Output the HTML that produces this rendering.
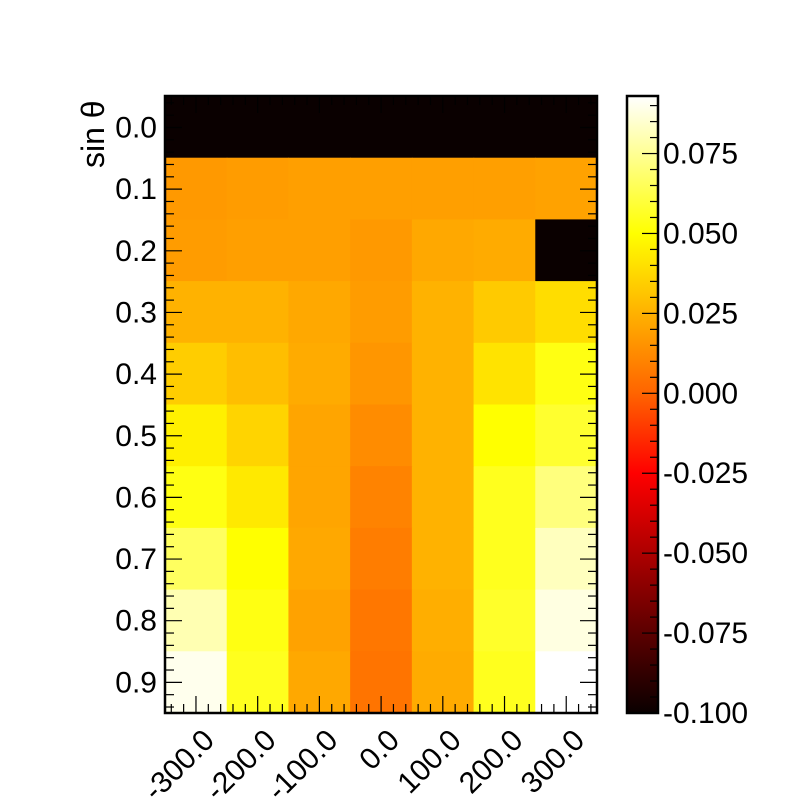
<!DOCTYPE html>
<html><head><meta charset="utf-8"><style>
html,body{margin:0;padding:0;background:#fff;}
</style></head><body>
<svg id="chart" width="800" height="800" viewBox="0 0 800 800" xmlns="http://www.w3.org/2000/svg" font-family="Liberation Sans, sans-serif">
<g id="cells"></g>
<g id="cbar"></g>
<g id="axes"></g>
<text transform="translate(104,168) rotate(-90)" font-size="32" style="font-size:32px">sin θ</text>
</svg>
<script>
const xBins = [-300, -200, -100, 0, 100, 200, 300];
const yBins = [0.0, 0.1, 0.2, 0.3, 0.4, 0.5, 0.6, 0.7, 0.8, 0.9];
const values = [
 [-0.1,-0.1,-0.1,-0.1,-0.1,-0.1,-0.1],
 [0.017,0.018,0.019,0.019,0.019,0.019,0.020],
 [0.018,0.019,0.019,0.017,0.022,0.023,-0.1],
 [0.025,0.025,0.022,0.018,0.025,0.033,0.039],
 [0.034,0.029,0.023,0.016,0.025,0.041,0.053],
 [0.045,0.036,0.021,0.013,0.025,0.050,0.058],
 [0.053,0.043,0.021,0.010,0.025,0.055,0.071],
 [0.066,0.050,0.022,0.008,0.025,0.055,0.082],
 [0.080,0.053,0.020,0.006,0.024,0.057,0.088],
 [0.090,0.055,0.022,0.005,0.023,0.055,0.093]
];
const xTickLabels = ["-300.0","-200.0","-100.0","0.0","100.0","200.0","300.0"];
const yTickLabels = ["0.0","0.1","0.2","0.3","0.4","0.5","0.6","0.7","0.8","0.9"];
const zTickValues = [-0.1,-0.075,-0.05,-0.025,0,0.025,0.05,0.075];
const zTickLabels = ["-0.100","-0.075","-0.050","-0.025","0.000","0.025","0.050","0.075"];

const NS="http://www.w3.org/2000/svg";
const L=165,R=597,T=96,B=713;
const zMin=-0.1,zMax=0.093;
const cw=(R-L)/xBins.length, ch=(B-T)/yBins.length;
function colX(i){return L+i*cw;}
function rowY(j){return T+j*ch;}
function tickX(v){return 381.1+v*0.6171;}
function tickY(v){return 127.5+v*616.5;}
function zY(v){return B-(v-zMin)/(zMax-zMin)*(B-T);}
const stops=[[-0.1,[10,0,0]],[-0.025,[255,0,0]],[0,[255,100,0]],[0.05,[255,255,0]],[0.093,[255,255,255]]];
function color(v){
  v=Math.max(zMin,Math.min(zMax,v));
  for(let k=0;k<stops.length-1;k++){
    const a=stops[k],b=stops[k+1];
    if(v<=b[0]){const t=(v-a[0])/(b[0]-a[0]);
      const c=a[1].map((x,i)=>Math.round(x+(b[1][i]-x)*t));
      return `rgb(${c[0]},${c[1]},${c[2]})`;}
  }
  return "#fff";
}
function el(tag,attrs,parent){const e=document.createElementNS(NS,tag);for(const k in attrs)e.setAttribute(k,attrs[k]);parent.appendChild(e);return e;}
const FS='font-size:30px;font-family:"Liberation Sans",sans-serif';
const cells=document.getElementById('cells');
values.forEach((row,j)=>row.forEach((v,i)=>{
  const r=el('rect',{x:colX(i),y:rowY(j),width:cw+0.6,height:ch+0.6,fill:color(v)},cells);
  
  
}));
const cb=document.getElementById('cbar');
const defs=el('defs',{},cb);
const g=el('linearGradient',{id:'grad',x1:0,y1:1,x2:0,y2:0},defs);
stops.forEach(s=>el('stop',{offset:(s[0]-zMin)/(zMax-zMin),'stop-color':color(s[0])},g));
const cbr=el('rect',{x:627,y:T,width:31,height:B-T,fill:'url(#grad)',stroke:'#000','stroke-width':2.5},cb);


for(let k=-20;k*0.005<=zMax+1e-9;k++){
  const v=k*0.005;const y=zY(v);const major=(k%5)===0;
  el('line',{x1:658-(major?16:8),x2:658,y1:y,y2:y,stroke:'#000','stroke-width':1.2},cb);
}
zTickValues.forEach((v,i)=>{
  const t=el('text',{x:663,y:zY(v)+10,'font-size':30,style:FS},cb);t.textContent=zTickLabels[i];
  
  
});
const ax=document.getElementById('axes');
const fr=el('rect',{x:L,y:T,width:R-L,height:B-T,fill:'none',stroke:'#000','stroke-width':2.5},ax);


for(let k=-20;k<=20;k++){
  const v=k*20;const x=tickX(v);if(x<L+1||x>R-1)continue;const major=(k%5)===0;
  el('line',{x1:x,x2:x,y1:B,y2:B-(major?17:9),stroke:'#000','stroke-width':1.2},ax);
  el('line',{x1:x,x2:x,y1:T,y2:T+(major?17:9),stroke:'#000','stroke-width':1.2},ax);
}
xTickLabels.forEach((s,i)=>{
  const x=tickX(xBins[i]);
  const t=el('text',{'text-anchor':'end',transform:`translate(${x+20},${B+29}) rotate(-45)`,'font-size':30,style:FS},ax);t.textContent=s;
  
  
});
for(let k=-3;k<=50;k++){
  const v=k*0.02;const y=tickY(v);if(y<T+1||y>B-1)continue;const major=(k%5)===0;
  el('line',{x1:L,x2:L+(major?17:9),y1:y,y2:y,stroke:'#000','stroke-width':1.2},ax);
  el('line',{x1:R,x2:R-(major?17:9),y1:y,y2:y,stroke:'#000','stroke-width':1.2},ax);
}
yTickLabels.forEach((s,j)=>{
  const t=el('text',{'text-anchor':'end',x:157,y:tickY(yBins[j])+10,'font-size':30,style:FS},ax);t.textContent=s;
  
  
});
</script>
</body></html>
